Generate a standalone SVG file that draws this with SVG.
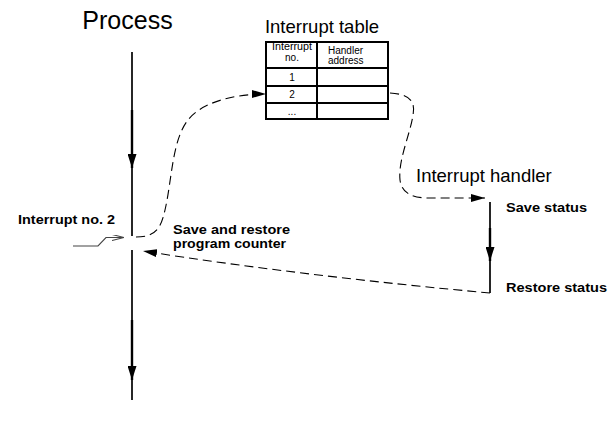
<svg xmlns="http://www.w3.org/2000/svg" width="610" height="430" viewBox="0 0 610 430">
  <style>
    .title { font-family: "Liberation Sans", Arial, sans-serif; fill: #000; }
    .bold { font-family: "Liberation Sans", Arial, sans-serif; font-weight: bold; font-size: 13px; fill: #000; }
    .note { font-size: 12px; }
    .cell { font-family: "Liberation Sans", Arial, sans-serif; font-size: 10px; fill: #000; }
    .mid { text-anchor: middle; }
    .flow { stroke: #000; stroke-width: 2.4; fill: none; }
    .line { stroke: #000; stroke-width: 1.7; fill: none; }
    .dash { stroke: #000; stroke-width: 1.1; fill: none; stroke-dasharray: 9 5; }
    .grid { stroke: #000; stroke-width: 2; fill: #fff; }
  </style>
  <defs>
    <marker id="solidHead" viewBox="0 0 14 9" refX="14" refY="4.5" markerWidth="14" markerHeight="9" markerUnits="userSpaceOnUse" orient="auto">
      <path d="M0,0 L14,4.5 L0,9 Z" fill="#000"/>
    </marker>
    <marker id="dashHead" viewBox="0 0 14 8" refX="14" refY="4" markerWidth="14" markerHeight="8" markerUnits="userSpaceOnUse" orient="auto">
      <path d="M0,0 L14,4 L0,8 Z" fill="#000"/>
    </marker>
    <marker id="thinHead" viewBox="0 0 12 6" refX="12" refY="3" markerWidth="12" markerHeight="6" markerUnits="userSpaceOnUse" orient="auto">
      <path d="M0,0 L12,3 L0,6" fill="none" stroke="#444" stroke-width="1.1"/>
    </marker>
  </defs>

  <!-- Process timeline -->
  <g id="process">
    <text class="title mid" x="127.5" y="29" font-size="25">Process</text>
    <line x1="132" y1="52" x2="132" y2="236" class="line"/>
    <line x1="132" y1="110" x2="132" y2="168" class="flow" marker-end="url(#solidHead)"/>
    <line x1="132" y1="250" x2="132" y2="400" class="line"/>
    <line x1="132" y1="320" x2="132" y2="380" class="flow" marker-end="url(#solidHead)"/>
  </g>

  <!-- Interrupt signal -->
  <g id="interrupt">
    <text class="bold" x="18" y="224" textLength="97" lengthAdjust="spacingAndGlyphs">Interrupt no. 2</text>
    <polyline points="73,246 98,246 106,237.5 124,237.5" fill="none" stroke="#444" stroke-width="1.1" marker-end="url(#thinHead)"/>
  </g>

  <!-- Interrupt table -->
  <g id="interrupt-table">
    <text class="title mid" x="322" y="33" font-size="18.5">Interrupt table</text>
    <rect x="266" y="42" width="122" height="77" class="grid"/>
    <line x1="317" y1="42" x2="317" y2="119" stroke="#000" stroke-width="2"/>
    <line x1="266" y1="68" x2="388" y2="68" stroke="#000" stroke-width="2"/>
    <line x1="266" y1="86" x2="388" y2="86" stroke="#000" stroke-width="2"/>
    <line x1="266" y1="103" x2="388" y2="103" stroke="#000" stroke-width="2"/>
    <text class="cell mid" x="292" y="50" textLength="40" lengthAdjust="spacingAndGlyphs">Interrupt</text>
    <text class="cell mid" x="292" y="61">no.</text>
    <text class="cell" x="328" y="54">Handler</text>
    <text class="cell" x="328" y="64">address</text>
    <text class="cell mid" x="292" y="81">1</text>
    <text class="cell mid" x="292" y="98">2</text>
    <text class="cell mid" x="292" y="115">...</text>
  </g>

  <!-- Interrupt handler -->
  <g id="handler">
    <text class="title" x="416" y="182" font-size="18.5">Interrupt handler</text>
    <line x1="490" y1="202" x2="490" y2="293" class="line"/>
    <line x1="490" y1="228" x2="490" y2="261" class="flow" marker-end="url(#solidHead)"/>
    <text class="bold" x="506" y="212" textLength="81" lengthAdjust="spacingAndGlyphs">Save status</text>
    <text class="bold" x="506" y="292" textLength="101" lengthAdjust="spacingAndGlyphs">Restore status</text>
  </g>

  <!-- Program counter note -->
  <g id="pc-note">
    <text class="bold note" x="173" y="234" textLength="117" lengthAdjust="spacingAndGlyphs">Save and restore</text>
    <text class="bold note" x="173" y="248" textLength="113" lengthAdjust="spacingAndGlyphs">program counter</text>
  </g>

  <!-- Dashed control-flow connectors -->
  <g id="connectors">
    <path class="dash" d="M136,237 C156,237 161,228 165,210 C172,180 172,140 188,120 C200,104 230,94 266,94" marker-end="url(#dashHead)"/>
    <path class="dash" d="M390,93 C408,94 416,100 413,115 C410,135 398,160 400,180 C402,195 415,198 430,198 L485,198" marker-end="url(#dashHead)"/>
    <path class="dash" d="M490,293 C380,283 250,268 143,251" marker-end="url(#dashHead)"/>
  </g>
</svg>
